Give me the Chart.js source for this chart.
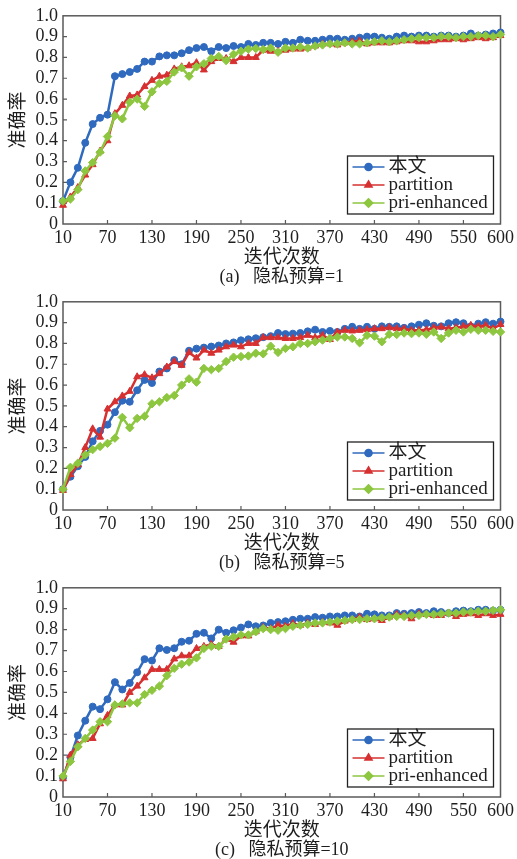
<!DOCTYPE html>
<html>
<head>
<meta charset="utf-8">
<title>准确率 vs 迭代次数</title>
<script src="https://cdn.jsdelivr.net/npm/chart.js@4.4.1/dist/chart.umd.min.js"></script>
<style>
  html, body { margin: 0; padding: 0; background: #fff; }
  canvas { display: block; }
</style>
</head>
<body>
<canvas id="chartA" width="517" height="286"></canvas>
<canvas id="chartB" width="517" height="286"></canvas>
<canvas id="chartC" width="517" height="287"></canvas>
<script>
// x values and ticks
const iterations = [10,20,30,40,50,60,70,80,90,100,110,120,130,140,150,160,170,180,190,200,
  210,220,230,240,250,260,270,280,290,300,310,320,330,340,350,360,370,380,390,400,
  410,420,430,440,450,460,470,480,490,500,510,520,530,540,550,560,570,580,590,600];
const xTicks = [10,70,130,190,250,310,370,430,490,550,600];
const yTicks = [0,0.1,0.2,0.3,0.4,0.5,0.6,0.7,0.8,0.9,1.0];
const yTickLabels = ['0','0.1','0.2','0.3','0.4','0.5','0.6','0.7','0.8','0.9','1.0'];
const seriesNames = ['本文', 'partition', 'pri-enhanced'];
const captions = ['(a)   隐私预算=1', '(b)   隐私预算=5', '(c)   隐私预算=10'];

// (a) privacy budget = 1
const oursA = [0.11,0.20,0.27,0.39,0.48,0.51,0.525,0.71,0.72,0.73,
  0.745,0.78,0.78,0.805,0.81,0.81,0.82,0.835,0.845,0.85,
  0.83,0.85,0.845,0.855,0.85,0.865,0.86,0.87,0.87,0.865,
  0.875,0.87,0.885,0.88,0.88,0.885,0.89,0.89,0.885,0.89,
  0.895,0.90,0.90,0.895,0.89,0.90,0.905,0.90,0.905,0.905,
  0.90,0.905,0.905,0.90,0.905,0.915,0.905,0.91,0.915,0.92];
const partitionA = [0.09,0.13,0.175,0.235,0.285,0.35,0.40,0.53,0.57,0.615,
  0.62,0.66,0.69,0.71,0.715,0.745,0.755,0.76,0.775,0.74,
  0.78,0.795,0.795,0.78,0.80,0.80,0.80,0.835,0.83,0.83,
  0.835,0.84,0.84,0.845,0.855,0.865,0.865,0.86,0.87,0.875,
  0.88,0.865,0.87,0.87,0.87,0.875,0.88,0.88,0.875,0.875,
  0.88,0.885,0.885,0.89,0.885,0.89,0.895,0.89,0.895,0.905];
const priA = [0.11,0.12,0.165,0.255,0.295,0.345,0.42,0.52,0.505,0.585,
  0.60,0.565,0.635,0.675,0.685,0.73,0.75,0.71,0.755,0.77,
  0.795,0.805,0.785,0.815,0.83,0.84,0.843,0.838,0.845,0.825,
  0.845,0.845,0.85,0.845,0.855,0.86,0.865,0.865,0.87,0.865,
  0.865,0.87,0.875,0.88,0.875,0.88,0.885,0.89,0.895,0.895,
  0.895,0.90,0.90,0.895,0.90,0.90,0.905,0.905,0.90,0.91];

// (b) privacy budget = 5
const oursB = [0.10,0.16,0.21,0.255,0.33,0.38,0.41,0.47,0.525,0.52,
  0.575,0.625,0.61,0.665,0.68,0.72,0.70,0.765,0.775,0.78,
  0.785,0.79,0.80,0.805,0.815,0.82,0.825,0.83,0.835,0.85,
  0.845,0.847,0.85,0.858,0.866,0.855,0.86,0.855,0.87,0.88,
  0.87,0.88,0.87,0.882,0.88,0.882,0.875,0.882,0.89,0.897,
  0.885,0.882,0.897,0.902,0.897,0.882,0.895,0.902,0.895,0.905];
const partitionB = [0.094,0.17,0.217,0.30,0.39,0.35,0.485,0.52,0.548,0.57,
  0.64,0.65,0.635,0.655,0.687,0.713,0.695,0.756,0.73,0.768,
  0.753,0.768,0.784,0.792,0.784,0.80,0.80,0.828,0.828,0.828,
  0.824,0.824,0.828,0.839,0.828,0.839,0.819,0.855,0.863,0.86,
  0.863,0.866,0.871,0.871,0.876,0.871,0.871,0.863,0.863,0.866,
  0.876,0.879,0.871,0.876,0.882,0.887,0.882,0.887,0.871,0.891];
const priB = [0.10,0.205,0.225,0.265,0.29,0.305,0.32,0.345,0.445,0.395,
  0.44,0.45,0.51,0.52,0.54,0.55,0.60,0.63,0.614,0.68,
  0.674,0.68,0.713,0.734,0.737,0.74,0.753,0.75,0.787,0.757,
  0.776,0.784,0.80,0.80,0.808,0.816,0.824,0.831,0.831,0.824,
  0.803,0.839,0.835,0.808,0.844,0.843,0.85,0.847,0.85,0.844,
  0.855,0.824,0.85,0.863,0.855,0.868,0.863,0.863,0.858,0.855];

// (c) privacy budget = 10
const oursC = [0.093,0.19,0.294,0.365,0.432,0.42,0.467,0.549,0.514,0.545,
  0.596,0.659,0.652,0.711,0.703,0.711,0.742,0.747,0.78,0.785,
  0.758,0.80,0.785,0.797,0.81,0.825,0.816,0.82,0.832,0.836,
  0.84,0.847,0.852,0.852,0.86,0.857,0.863,0.863,0.868,0.868,
  0.863,0.876,0.873,0.868,0.868,0.879,0.876,0.879,0.884,0.879,
  0.888,0.884,0.879,0.888,0.891,0.888,0.895,0.895,0.891,0.895];
const partitionC = [0.087,0.20,0.25,0.275,0.28,0.35,0.39,0.44,0.44,0.50,
  0.53,0.57,0.61,0.61,0.61,0.66,0.675,0.675,0.71,0.72,
  0.73,0.72,0.755,0.74,0.77,0.77,0.79,0.81,0.805,0.821,
  0.816,0.829,0.821,0.832,0.825,0.836,0.832,0.821,0.841,0.848,
  0.86,0.848,0.852,0.844,0.86,0.873,0.868,0.852,0.876,0.873,
  0.868,0.868,0.879,0.863,0.873,0.876,0.868,0.876,0.868,0.873];
const priC = [0.10,0.17,0.24,0.28,0.32,0.36,0.36,0.44,0.445,0.45,
  0.45,0.49,0.51,0.53,0.58,0.615,0.635,0.645,0.665,0.71,
  0.72,0.72,0.755,0.765,0.775,0.775,0.79,0.805,0.80,0.797,
  0.805,0.816,0.821,0.825,0.832,0.832,0.836,0.841,0.844,0.848,
  0.848,0.852,0.852,0.857,0.86,0.863,0.863,0.868,0.868,0.873,
  0.873,0.876,0.879,0.879,0.884,0.884,0.888,0.888,0.892,0.895];

const colors = ['#2f6abe', '#d63031', '#8dc63f'];
const markers = ['circle', 'triangle', 'rectRot'];
const markerSizes = [3.5, 4, 4.2];
const serif = '"Liberation Serif", "Noto Sans CJK SC", serif';
const cjk = '"Noto Sans CJK SC", sans-serif';
const textColor = '#1e1e1e';

// box around the plot, inward ticks and the boxed legend
const framePlugin = {
  id: 'frame',
  beforeDatasetsDraw(chart) {
    const {ctx, chartArea: a, scales} = chart;
    ctx.save();
    ctx.strokeStyle = '#5a5a5a';
    ctx.lineWidth = 1.5;
    ctx.strokeRect(a.left, a.top, a.right - a.left, a.bottom - a.top);
    ctx.lineWidth = 1.2;
    ctx.beginPath();
    scales.x.ticks.forEach(t => {
      if (t.value <= scales.x.min || t.value >= scales.x.max) return;
      const px = scales.x.getPixelForValue(t.value);
      ctx.moveTo(px, a.bottom);
      ctx.lineTo(px, a.bottom - 4);
    });
    scales.y.ticks.forEach(t => {
      if (t.value <= scales.y.min || t.value >= scales.y.max) return;
      const py = scales.y.getPixelForValue(t.value);
      ctx.moveTo(a.left, py);
      ctx.lineTo(a.left + 4, py);
    });
    ctx.stroke();
    ctx.restore();
  },
  afterDatasetsDraw(chart) {
    const {ctx, chartArea: a} = chart;
    const w = 146, h = 58;
    const left = a.right - 7 - w, top = a.bottom - 10 - h;
    ctx.save();
    ctx.fillStyle = '#fff';
    ctx.fillRect(left, top, w, h);
    ctx.strokeStyle = '#222';
    ctx.lineWidth = 1.3;
    ctx.strokeRect(left, top, w, h);
    chart.data.datasets.forEach((ds, i) => {
      const y = top + 11 + i * 18;
      ctx.strokeStyle = ds.borderColor;
      ctx.fillStyle = ds.borderColor;
      ctx.lineWidth = 1.6;
      ctx.beginPath();
      ctx.moveTo(left + 5, y);
      ctx.lineTo(left + 37, y);
      ctx.stroke();
      Chart.helpers.drawPoint(ctx, {pointStyle: ds.pointStyle, radius: ds.pointRadius, rotation: 0, borderWidth: 1}, left + 21, y);
      ctx.fillStyle = textColor;
      ctx.font = '19px ' + serif;
      ctx.textAlign = 'left';
      ctx.textBaseline = 'middle';
      ctx.fillText(ds.label, left + 41, y);
    });
    ctx.restore();
  }
};

function makeChart(id, ours, partition, pri, caption) {
  const seriesData = [ours, partition, pri];
  return new Chart(document.getElementById(id), {
    type: 'line',
    data: {
      datasets: seriesNames.map((name, i) => ({
        label: name,
        data: iterations.map((x, j) => ({x: x, y: seriesData[i][j]})),
        borderColor: colors[i],
        backgroundColor: colors[i],
        borderWidth: 2.5,
        pointStyle: markers[i],
        pointRadius: markerSizes[i],
        pointBorderWidth: 1,
        tension: 0,
        clip: false,
        order: 3 - i
      }))
    },
    options: {
      responsive: false,
      animation: false,
      devicePixelRatio: 1,
      events: [],
      layout: {padding: {top: 13, right: 12, left: 0, bottom: 0}},
      plugins: {
        legend: {display: false},
        tooltip: {enabled: false},
        title: {
          display: true,
          position: 'bottom',
          fullSize: false,
          text: caption,
          color: textColor,
          font: {family: serif, size: 18, weight: 'normal', lineHeight: 1},
          padding: {top: 3, bottom: 0}
        }
      },
      scales: {
        x: {
          type: 'linear',
          min: 10,
          max: 600,
          afterBuildTicks: s => { s.ticks = xTicks.map(v => ({value: v})); },
          afterFit: s => { s.height = 41; },
          grid: {display: false, drawTicks: false},
          border: {display: false},
          ticks: {
            color: textColor,
            font: {family: serif, size: 18},
            padding: 3,
            maxRotation: 0,
            autoSkip: false,
            callback: v => String(v)
          },
          title: {
            display: true,
            text: '迭代次数',
            color: textColor,
            font: {family: cjk, size: 19, lineHeight: 1},
            padding: 0
          }
        },
        y: {
          min: 0,
          max: 1,
          afterBuildTicks: s => { s.ticks = yTicks.map(v => ({value: v})); },
          afterFit: s => { s.width = 63; },
          grid: {display: false, drawTicks: false},
          border: {display: false},
          ticks: {
            color: textColor,
            font: {family: serif, size: 18},
            padding: 5,
            autoSkip: false,
            callback: v => yTickLabels[yTicks.indexOf(v)]
          },
          title: {
            display: true,
            text: '准确率',
            color: textColor,
            font: {family: cjk, size: 19, lineHeight: 1},
            padding: {top: 7, bottom: 0}
          }
        }
      }
    },
    plugins: [framePlugin]
  });
}

makeChart('chartA', oursA, partitionA, priA, captions[0]);
makeChart('chartB', oursB, partitionB, priB, captions[1]);
makeChart('chartC', oursC, partitionC, priC, captions[2]);
</script>
</body>
</html>
